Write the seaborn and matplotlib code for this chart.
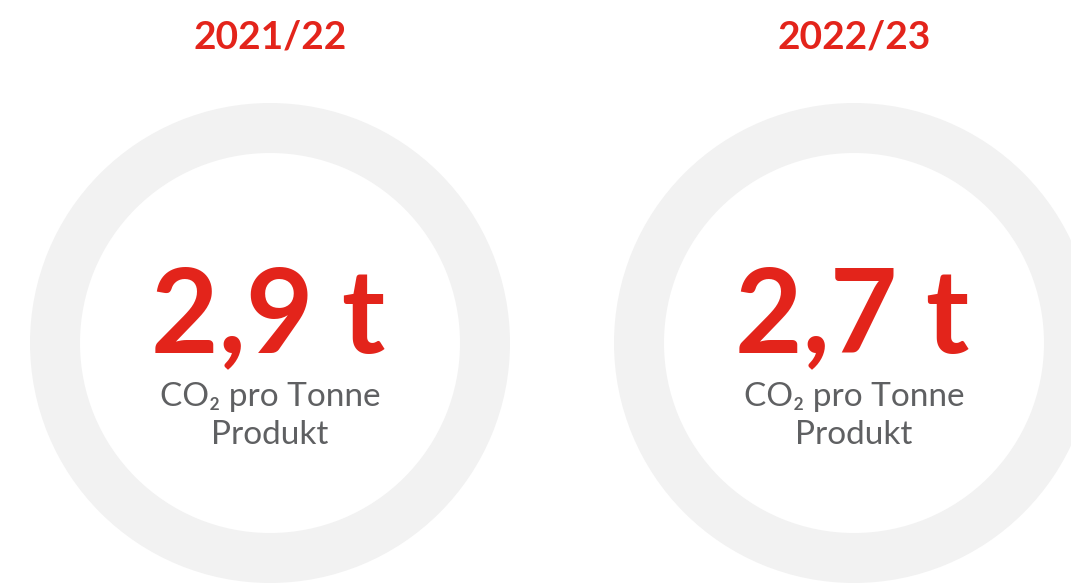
import matplotlib

matplotlib.use("Agg")
import matplotlib.pyplot as plt
import seaborn as sns
from matplotlib.patches import Wedge

# chart values
seasons = ["2021/22", "2022/23"]
co2_per_tonne = [2.9, 2.7]
unit = "t"
caption_lines = ["CO\u2082 pro Tonne", "Produkt"]

RED = "#e3241b"
RING = "#f2f2f2"
GREY = "#5f6062"

sns.set_theme(style="white")
plt.rcParams["font.family"] = ["Lato", "DejaVu Sans"]

W, H = 1071, 583
fig = plt.figure(figsize=(W / 100, H / 100), dpi=100)
ax = fig.add_axes([0, 0, 1, 1])
ax.set_xlim(0, W)
ax.set_ylim(H, 0)
ax.set_axis_off()

centers_x = [270, 854]
center_y = 343
outer_r, ring_w = 240, 50

for cx, season, value in zip(centers_x, seasons, co2_per_tonne):
    ax.add_patch(Wedge((cx, center_y), outer_r, 0, 360, width=ring_w,
                       facecolor=RING, edgecolor="none"))
    ax.text(cx, 37, season, ha="center", va="center", color=RED,
            fontsize=28, fontweight="bold")
    label = f"{value:.1f}".replace(".", ",") + " " + unit
    ax.text(cx - 2, 352, label, ha="center", va="baseline", color=RED,
            fontsize=84, fontweight="bold")
    for i, line in enumerate(caption_lines):
        ax.text(cx, 406 + i * 38, line, ha="center", va="baseline",
                color=GREY, fontsize=24, fontweight="normal")

fig.savefig("out.png", dpi=100, facecolor="white")
